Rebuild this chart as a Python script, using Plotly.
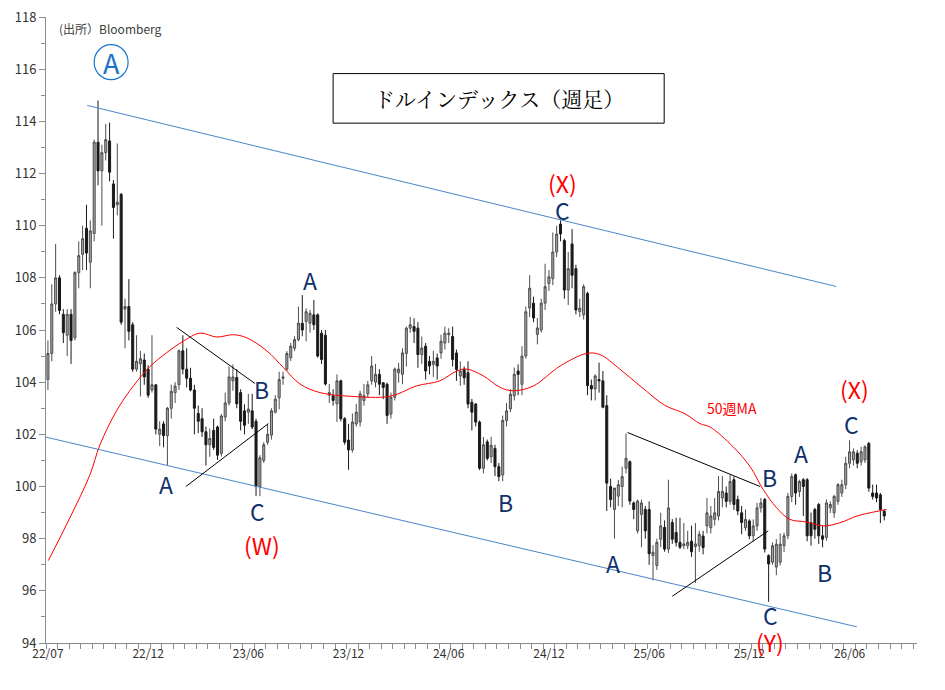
import plotly.graph_objects as go

# ── weekly OHLC ──────────────────────────────────────────────────────────────
opens = [
    104.1, 105.1, 107.0, 108.0, 106.6, 105.8, 106.6, 105.7, 108.2, 108.9,
    109.9, 108.6, 109.7, 113.2, 112.1, 112.8, 113.25, 111.6, 110.8, 111.2,
    106.8, 106.9, 106.2, 104.5, 104.7, 104.85, 104.5, 103.7, 103.9, 102.0,
    102.4, 101.95, 103.0, 103.6, 103.9, 105.2, 104.5, 104.15, 103.7, 102.8,
    102.6, 102.1, 101.6, 102.15, 102.28, 101.27, 102.66, 103.2, 104.05, 104.18,
    103.6, 102.9, 102.85, 102.9, 102.5, 100.0, 101.0, 101.7, 101.97, 102.85,
    103.4, 104.15, 104.5, 104.94, 105.3, 105.63, 106.26, 106.33, 106.26, 106.58,
    106.58, 105.88, 105.8, 103.5, 103.48, 103.17, 104.05, 102.6, 101.78, 101.4,
    102.4, 102.47, 103.3, 103.55, 104.05, 104.0, 104.3, 103.98, 103.92, 102.78,
    103.42, 104.36, 104.3, 105.1, 106.07, 106.13, 106.07, 105.06, 105.38, 104.8,
    104.68, 104.93, 105.12, 105.5, 105.82, 105.75, 105.12, 104.24, 104.49, 104.36,
    103.23, 103.16, 102.47, 100.7, 101.71, 101.14, 101.46, 100.76, 100.44, 102.53,
    102.97, 103.48, 104.43, 103.92, 105.0, 106.84, 107.03, 105.83, 106.0, 107.03,
    107.78, 107.97, 108.99, 110.06, 109.43, 107.53, 109.3, 108.35, 106.71, 106.58,
    107.4, 103.87, 103.74, 104.1, 104.05, 103.1, 100.0, 99.12, 99.63, 100.0,
    100.7, 100.95, 99.37, 98.3, 98.93, 99.12, 99.12, 97.35, 96.97, 97.98,
    98.43, 97.6, 98.62, 98.24, 97.86, 97.73, 97.73, 97.9, 97.7, 97.73,
    98.1, 98.49, 98.42, 98.74, 98.87, 99.56, 99.75, 99.43, 100.26, 99.5,
    98.99, 98.42, 98.68, 98.11, 98.49, 99.18, 99.5, 97.35, 97.1, 96.91,
    97.1, 97.73, 98.11, 99.62, 100.45, 99.81, 100.26, 100.26, 98.61, 99.12,
    99.31, 98.11, 98.05, 99.18, 98.99, 99.43, 99.75, 100.07, 100.89, 101.02,
    101.27, 100.95, 101.02, 101.65, 99.75, 99.75, 99.68, 99.05,
]
highs = [
    105.6, 107.75, 109.3, 108.1, 106.8, 106.8, 106.8, 108.25, 109.4, 110.0,
    110.8, 110.2, 113.3, 114.8, 113.1, 113.9, 113.95, 111.75, 113.15, 111.25,
    107.2, 107.95, 106.3, 105.8, 105.2, 105.1, 104.65, 105.8, 103.9, 102.5,
    102.5, 103.05, 103.9, 104.0, 105.25, 105.8, 105.3, 104.55, 103.9, 103.1,
    103.0, 102.3, 102.22, 102.6, 102.34, 102.78, 103.6, 104.6, 104.68, 104.5,
    103.73, 103.15, 103.55, 103.55, 102.6, 101.2, 101.7, 102.4, 103.0, 103.5,
    104.4, 104.4, 105.19, 105.5, 105.76, 106.9, 107.34, 106.83, 106.77, 107.15,
    106.64, 106.0, 106.0, 103.93, 103.73, 104.3, 104.1, 102.66, 102.4, 102.8,
    103.17, 103.67, 103.93, 104.05, 105.0, 104.7, 104.5, 103.98, 103.98, 103.6,
    104.56, 104.74, 105.3, 106.13, 106.5, 106.45, 106.3, 105.75, 105.5, 105.0,
    105.2, 105.1, 105.82, 106.13, 106.07, 106.13, 105.25, 104.8, 104.6, 104.8,
    103.36, 103.2, 102.53, 101.9, 101.8, 101.9, 101.6, 100.9, 102.72, 103.2,
    103.73, 104.56, 104.68, 105.38, 106.9, 108.1, 107.28, 106.46, 107.2, 108.54,
    108.3, 109.74, 110.0, 110.2, 109.5, 108.99, 109.87, 108.5, 107.2, 107.75,
    107.47, 104.1, 104.3, 104.75, 104.43, 103.5, 100.3, 99.9, 100.25, 100.76,
    102.03, 101.0, 99.43, 99.5, 99.5, 99.25, 99.43, 97.75, 98.0, 98.99,
    98.7, 100.26, 98.75, 98.8, 98.8, 98.6, 98.3, 98.5, 98.6, 98.3,
    98.3, 99.56, 99.25, 99.56, 100.4, 100.4, 100.0, 100.45, 100.38, 99.65,
    99.25, 99.12, 98.74, 98.74, 99.37, 99.56, 99.56, 97.4, 97.86, 97.98,
    98.2, 98.23, 99.75, 100.5, 100.5, 100.26, 100.32, 100.32, 99.0, 99.18,
    99.37, 98.5, 99.5, 99.43, 99.68, 100.13, 100.26, 101.14, 101.77, 101.46,
    101.39, 101.52, 101.58, 101.71, 100.07, 100.07, 99.75, 99.12,
]
lows = [
    103.7, 104.8, 106.7, 106.6, 105.5, 105.0, 104.7, 105.6, 107.6, 108.3,
    108.3, 107.6, 109.4, 111.55, 110.0, 112.5, 111.7, 109.5, 110.4, 106.2,
    105.3, 105.6, 104.4, 104.4, 103.45, 103.9, 103.4, 103.6, 102.0, 101.55,
    101.5, 100.8, 102.6, 103.2, 103.7, 104.3, 103.8, 103.65, 102.0, 102.05,
    101.9, 100.8, 101.14, 101.4, 101.02, 101.15, 102.5, 103.1, 103.67, 103.0,
    102.15, 102.0, 102.4, 102.2, 99.63, 99.63, 100.9, 101.6, 101.8, 102.8,
    102.96, 103.9, 104.43, 104.81, 105.2, 105.57, 105.76, 105.57, 105.9, 106.0,
    104.94, 104.7, 103.87, 103.2, 103.1, 102.47, 102.5, 101.6, 100.64, 101.3,
    102.3, 102.3, 103.1, 103.4, 103.9, 103.8, 103.5, 103.35, 102.4, 102.6,
    103.3, 103.98, 103.92, 104.6, 105.9, 105.5, 104.55, 104.7, 104.1, 104.3,
    104.2, 104.1, 104.9, 105.25, 105.5, 104.6, 104.05, 103.86, 103.9, 103.0,
    102.15, 102.3, 100.63, 100.5, 101.0, 100.9, 100.4, 100.2, 100.2, 102.3,
    102.85, 103.3, 103.5, 103.5, 104.9, 106.5, 106.3, 105.45, 105.9, 106.77,
    107.5, 107.72, 108.8, 109.4, 107.2, 106.96, 107.6, 106.6, 106.5, 106.4,
    103.5, 103.3, 103.3, 103.6, 103.0, 99.06, 99.2, 98.0, 99.25, 99.2,
    100.5, 99.3, 98.75, 98.2, 97.67, 98.0, 97.0, 96.4, 96.8, 97.67,
    97.5, 97.45, 97.8, 97.7, 97.6, 97.6, 97.6, 97.3, 96.3, 97.5,
    97.4, 98.2, 98.2, 98.5, 98.7, 99.2, 99.2, 99.3, 99.1, 98.9,
    98.17, 98.3, 97.98, 97.9, 98.3, 99.0, 97.47, 95.58, 97.0, 96.6,
    96.97, 97.48, 97.98, 99.4, 99.3, 99.6, 98.87, 97.9, 97.73, 98.0,
    97.8, 97.67, 97.92, 98.99, 98.8, 99.3, 99.6, 99.9, 100.7, 100.8,
    100.7, 100.8, 100.9, 99.8, 99.5, 99.4, 98.6, 98.7,
]
closes = [
    105.1, 107.0, 108.0, 106.75, 105.9, 106.6, 105.6, 108.2, 108.85, 109.5,
    108.95, 109.8, 113.2, 112.1, 112.8, 113.3, 112.05, 110.7, 110.9, 106.3,
    106.9, 105.95, 104.5, 104.8, 104.9, 104.2, 103.5, 103.9, 102.2, 102.2,
    101.95, 103.0, 103.65, 103.85, 105.2, 104.5, 104.15, 103.7, 103.0, 102.5,
    102.1, 101.6, 101.84, 101.5, 101.2, 102.7, 103.2, 104.2, 104.2, 103.17,
    102.5, 102.35, 102.97, 102.28, 100.0, 101.1, 101.6, 102.0, 102.9, 103.35,
    104.1, 104.2, 105.1, 105.38, 105.63, 106.26, 106.0, 106.7, 106.64, 106.2,
    105.0, 104.87, 103.93, 103.6, 103.3, 104.05, 102.6, 101.7, 101.4, 102.47,
    102.85, 103.55, 103.48, 103.9, 104.62, 104.3, 103.92, 103.8, 102.72, 103.42,
    104.5, 104.5, 105.12, 106.07, 106.2, 105.95, 105.06, 105.31, 104.43, 104.62,
    104.8, 104.62, 105.57, 105.88, 105.88, 104.87, 104.49, 104.43, 104.17, 103.16,
    102.85, 102.47, 100.7, 101.6, 101.08, 101.58, 100.76, 100.38, 102.53, 102.9,
    103.54, 104.3, 104.3, 105.0, 106.7, 107.6, 106.46, 106.08, 107.03, 107.66,
    108.04, 108.99, 109.68, 109.68, 107.53, 108.35, 108.1, 106.77, 106.84, 107.66,
    103.87, 103.74, 104.24, 104.05, 103.04, 100.13, 99.5, 99.94, 100.07, 100.38,
    101.08, 99.44, 99.12, 99.44, 99.37, 98.3, 97.42, 97.48, 97.86, 98.49,
    97.6, 99.18, 97.98, 97.86, 97.67, 97.8, 97.86, 97.5, 97.8, 98.17,
    97.66, 98.99, 98.87, 98.99, 99.81, 99.81, 99.43, 100.19, 99.31, 99.06,
    98.62, 98.74, 98.11, 98.49, 99.18, 99.37, 97.6, 97.03, 97.73, 97.79,
    97.79, 98.11, 99.62, 100.38, 99.75, 100.19, 100.0, 98.11, 98.11, 98.36,
    98.11, 97.98, 99.37, 99.31, 99.62, 100.07, 100.07, 100.89, 101.33, 101.33,
    100.89, 101.33, 101.52, 99.94, 99.62, 99.56, 99.12, 98.87,
]

# 50-week moving average (sampled off the red line)
ma_week = [0.1, 5.7, 10.9, 13.5, 17.8, 22.2, 26.5, 30.8, 35.1, 39.5,
           43.8, 48.1, 51.6, 56.8, 61.1, 65.4, 70.6, 78.4, 88.8, 95.7,
           101.7, 106.1, 108.7, 113.0, 117.3, 120.8, 125.9, 132.9, 139.8, 143.2,
           148.4, 154.1, 160.1, 165.3, 169.2, 171.8, 177.8, 182.2, 185.6, 189.1,
           192.5, 196.9, 201.2, 205.5, 209.9, 214.2, 217.6]
ma_value = [97.16, 98.8, 100.45, 101.6, 102.9, 103.86, 104.6, 105.13, 105.57, 105.88,
            105.73, 105.82, 105.7, 105.2, 104.56, 103.93, 103.6, 103.46, 103.46, 103.86,
            104.05, 104.43, 104.5, 104.24, 103.8, 103.67, 103.85, 104.62, 105.1, 105.06,
            104.5, 103.8, 103.11, 102.79, 102.41, 102.28, 101.52, 100.76, 99.88, 99.18,
            98.74, 98.64, 98.49, 98.61, 98.87, 99.02, 99.12]

tick_weeks = [0, 26, 52, 78, 104, 130, 156, 182, 208]
tick_labels = ['22/07', '22/12', '23/06', '23/12', '24/06', '24/12', '25/06', '25/12', '26/06']

weeks = list(range(len(closes)))

NAVY = '#10306a'
RED = '#ff0000'
BLUE = '#4a86c8'
AXIS = '#8c8c8c'
FONT = 'Noto Sans CJK JP'

fig = go.Figure()
fig.add_trace(go.Candlestick(
    x=weeks, open=opens, high=highs, low=lows, close=closes,
    increasing=dict(line=dict(color='#4d4d4d', width=1), fillcolor='#a6a6a6'),
    decreasing=dict(line=dict(color='#1a1a1a', width=1), fillcolor='#1a1a1a'),
    whiskerwidth=0, showlegend=False, hoverinfo='skip',
))
fig.add_trace(go.Scatter(
    x=ma_week, y=ma_value, mode='lines', line=dict(color=RED, width=1, shape='spline'),
    showlegend=False, hoverinfo='skip',
))

# ── channel + triangle lines ─────────────────────────────────────────────────
lines = [
    (10.2, 114.61, 204.5, 107.67, BLUE),
    (-3.6, 102.0, 209.9, 94.62, BLUE),
    (33.4, 106.1, 53.7, 103.95, 'black'),
    (35.8, 100.0, 57.2, 102.41, 'black'),
    (150.4, 102.07, 184.8, 100.0, 'black'),
    (162.0, 95.79, 186.9, 98.3, 'black'),
]
for x0, y0, x1, y1, c in lines:
    fig.add_shape(type='line', x0=x0, y0=y0, x1=x1, y1=y1, xref='x', yref='y',
                  line=dict(color=c, width=1))

# ── wave labels ──────────────────────────────────────────────────────────────
labels = [
    ('A', 30.6, 100.08, NAVY), ('B', 55.5, 103.72, NAVY), ('C', 54.5, 99.06, NAVY),
    ('(W)', 55.5, 97.77, RED), ('A', 68.0, 107.9, NAVY), ('B', 118.6, 99.4, NAVY),
    ('(X)', 133.6, 111.65, RED), ('C', 133.4, 110.6, NAVY), ('A', 146.6, 97.05, NAVY),
    ('B', 187.1, 100.35, NAVY), ('C', 187.4, 95.07, NAVY), ('(Y)', 187.4, 94.05, RED),
    ('A', 195.4, 101.3, NAVY), ('B', 201.4, 96.71, NAVY), ('(X)', 209.4, 103.73, RED),
    ('C', 208.4, 102.4, NAVY),
]
for t, x, y, c in labels:
    fig.add_annotation(x=x, y=y, text=t, showarrow=False,
                       font=dict(family=FONT, size=23, color=c))

fig.add_annotation(x=177.5, y=103.0, text='50週MA', showarrow=False,
                   font=dict(family=FONT, size=14, color=RED))
fig.add_annotation(x=2.35, y=117.57, text='(出所）Bloomberg', showarrow=False, xanchor='left',
                   font=dict(family=FONT, size=12, color='#404040'))

# circled A
fig.add_shape(type='circle', x0=12.0, x1=20.8, y0=115.6, y1=116.94, xref='x', yref='y',
              line=dict(color='#1a73c9', width=1.2))
fig.add_annotation(x=16.4, y=116.25, text='A', showarrow=False,
                   font=dict(family=FONT, size=27, color='#1a73c9'))

# title box
fig.add_shape(type='rect', x0=74.0, x1=159.9, y0=113.93, y1=115.83, xref='x', yref='y',
              line=dict(color='black', width=1), fillcolor='white')
fig.add_annotation(x=117.0, y=114.88, text='ドルインデックス（週足）', showarrow=False,
                   font=dict(family="Noto Serif CJK JP, " + FONT, size=21, color='black'))

# page body has an 8px margin, so the figure is sized to fit inside the window
fig.update_layout(
    width=937, height=682,
    margin=dict(l=38, r=28, t=9, b=47, autoexpand=False),
    paper_bgcolor='white', plot_bgcolor='white',
    boxgap=0.25,
    xaxis=dict(
        range=[-0.5, 225.5], rangeslider=dict(visible=False), automargin=False,
        tickmode='array', tickvals=tick_weeks, ticktext=tick_labels, ticks='',
        showgrid=False, zeroline=False, showline=True, linecolor=AXIS, linewidth=1,
        tickfont=dict(family=FONT, size=12, color='#333333'),
        minor=dict(ticks='outside', tickmode='linear', tick0=-0.5, dtick=3,
                   ticklen=5, tickcolor=AXIS, showgrid=False),
    ),
    yaxis=dict(
        range=[94, 118], dtick=2, tick0=94, ticks='outside', ticklen=6, tickcolor=AXIS,
        automargin=False, ticklabeloverflow='allow',
        showgrid=False, zeroline=False, showline=True, linecolor=AXIS, linewidth=1,
        tickfont=dict(family=FONT, size=13, color='#333333'),
        minor=dict(ticks='outside', dtick=1, ticklen=4, tickcolor=AXIS, showgrid=False),
    ),
)

fig.write_html('out.html')
